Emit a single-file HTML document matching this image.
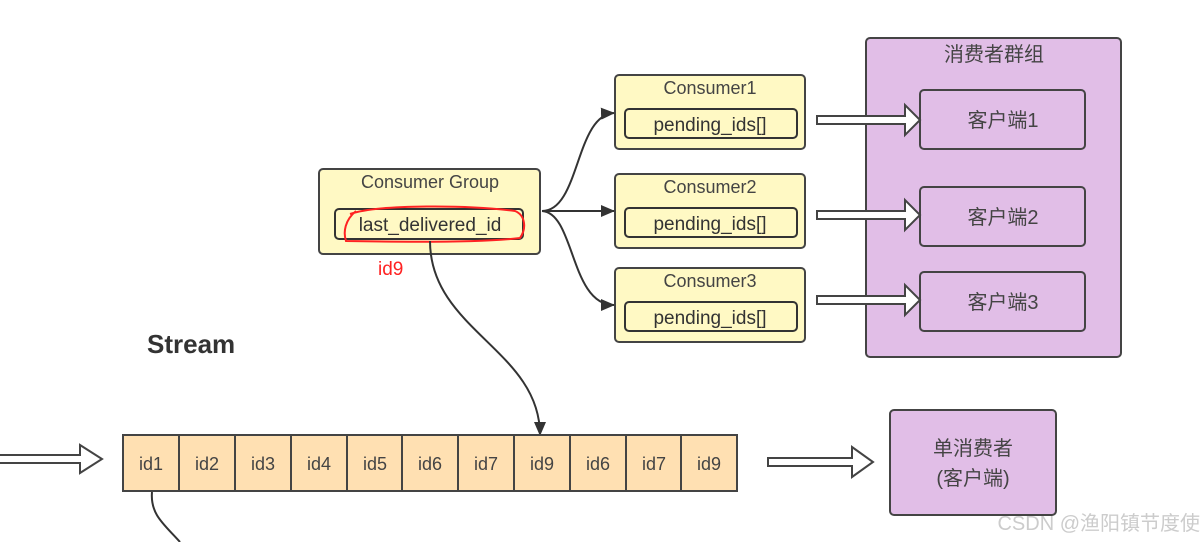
<!DOCTYPE html>
<html><head><meta charset="utf-8"><style>
html,body{margin:0;padding:0;background:#fff;}
svg{display:block;font-family:"Liberation Sans","Noto Sans CJK SC",sans-serif;}
</style></head><body>
<svg width="1204" height="542" viewBox="0 0 1204 542">
<defs><marker id="ah" markerWidth="14" markerHeight="12" refX="13" refY="6" orient="auto" markerUnits="userSpaceOnUse"><path d="M0,0 L14,6 L0,12 Z" fill="#333"/></marker></defs>
<g fill="#fff" stroke="#444" stroke-width="2">
<path d="M0,455 H80 V445 L102,459 L80,473 V463 H0"/>
<path d="M768,458 H852 V447 L873,462 L852,477 V466 H768 Z"/>
</g>
<rect x="319" y="169" width="221" height="85" rx="4" fill="#fff9c4" stroke="#444" stroke-width="2"/>
<text x="430" y="188" font-size="18" fill="#444" text-anchor="middle">Consumer Group</text>
<rect x="335" y="209" width="188" height="30" rx="4" fill="#fff9c4" stroke="#333" stroke-width="2"/>
<text x="430" y="231" font-size="19" fill="#333" text-anchor="middle">last_delivered_id</text>
<path d="M350,214 C380,204 470,205 515,211 C525,215 527,228 520,238 C480,243 400,242 346,241 C343,232 345,220 356,211" fill="none" stroke="#f22" stroke-width="2"/>
<text x="378" y="275" font-size="19" fill="#f22">id9</text>
<g font-size="18" fill="#444" text-anchor="middle">
<rect x="615" y="75" width="190" height="74" rx="4" fill="#fff9c4" stroke="#444" stroke-width="2"/>
<text x="710" y="94">Consumer1</text>
<rect x="625" y="109" width="172" height="29" rx="4" fill="#fff9c4" stroke="#333" stroke-width="2"/>
<text x="710" y="131" font-size="19" fill="#333">pending_ids[]</text>
<rect x="615" y="174" width="190" height="74" rx="4" fill="#fff9c4" stroke="#444" stroke-width="2"/>
<text x="710" y="193">Consumer2</text>
<rect x="625" y="208" width="172" height="29" rx="4" fill="#fff9c4" stroke="#333" stroke-width="2"/>
<text x="710" y="230" font-size="19" fill="#333">pending_ids[]</text>
<rect x="615" y="268" width="190" height="74" rx="4" fill="#fff9c4" stroke="#444" stroke-width="2"/>
<text x="710" y="287">Consumer3</text>
<rect x="625" y="302" width="172" height="29" rx="4" fill="#fff9c4" stroke="#333" stroke-width="2"/>
<text x="710" y="324" font-size="19" fill="#333">pending_ids[]</text>
</g>
<g fill="none" stroke="#333" stroke-width="2">
<path d="M542,211 C580,211 575,115 614,113" marker-end="url(#ah)"/>
<path d="M542,211 H614" marker-end="url(#ah)"/>
<path d="M542,211 C575,213 570,305 614,305" marker-end="url(#ah)"/>
<path d="M430,241 C430,330 540,350 540,435" marker-end="url(#ah)"/>
<path d="M152,492 C150,515 165,525 180,542"/>
</g>
<rect x="866" y="38" width="255" height="319" rx="4" fill="#e1bee7" stroke="#444" stroke-width="2"/>
<text x="994" y="61" font-size="20" fill="#444" text-anchor="middle">消费者群组</text>
<g fill="#e1bee7" stroke="#444" stroke-width="2">
<rect x="920" y="90" width="165" height="59" rx="4"/>
<rect x="920" y="187" width="165" height="59" rx="4"/>
<rect x="920" y="272" width="165" height="59" rx="4"/>
<rect x="890" y="410" width="166" height="105" rx="4"/>
</g>
<g font-size="20" fill="#444" text-anchor="middle">
<text x="1003" y="127">客户端1</text>
<text x="1003" y="224">客户端2</text>
<text x="1003" y="309">客户端3</text>
<text x="973" y="455">单消费者</text>
<text x="973" y="485">(客户端)</text>
</g>
<g fill="#fff" stroke="#444" stroke-width="2">
<path d="M817,116 H905 V105 L920,120 L905,135 V124 H817 Z"/>
<path d="M817,211 H905 V200 L920,215 L905,230 V219 H817 Z"/>
<path d="M817,296 H905 V285 L920,300 L905,315 V304 H817 Z"/>
</g>
<text x="147" y="353" font-size="26" font-weight="bold" fill="#333">Stream</text>
<rect x="123" y="435" width="614" height="56" stroke="#444" stroke-width="2" fill="#ffe0b2"/>
<g stroke="#444" stroke-width="2">
<line x1="179" y1="435" x2="179" y2="491"/><line x1="235" y1="435" x2="235" y2="491"/>
<line x1="291" y1="435" x2="291" y2="491"/><line x1="347" y1="435" x2="347" y2="491"/>
<line x1="402" y1="435" x2="402" y2="491"/><line x1="458" y1="435" x2="458" y2="491"/>
<line x1="514" y1="435" x2="514" y2="491"/><line x1="570" y1="435" x2="570" y2="491"/>
<line x1="626" y1="435" x2="626" y2="491"/><line x1="681" y1="435" x2="681" y2="491"/>
</g>
<g font-size="18" fill="#444" text-anchor="middle">
<text x="151" y="470">id1</text><text x="207" y="470">id2</text><text x="263" y="470">id3</text>
<text x="319" y="470">id4</text><text x="375" y="470">id5</text><text x="430" y="470">id6</text>
<text x="486" y="470">id7</text><text x="542" y="470">id9</text><text x="598" y="470">id6</text>
<text x="654" y="470">id7</text><text x="709" y="470">id9</text>
</g>
<text x="1200" y="530" font-size="20" fill="#ccc" text-anchor="end">CSDN @渔阳镇节度使</text>
</svg>
</body></html>
